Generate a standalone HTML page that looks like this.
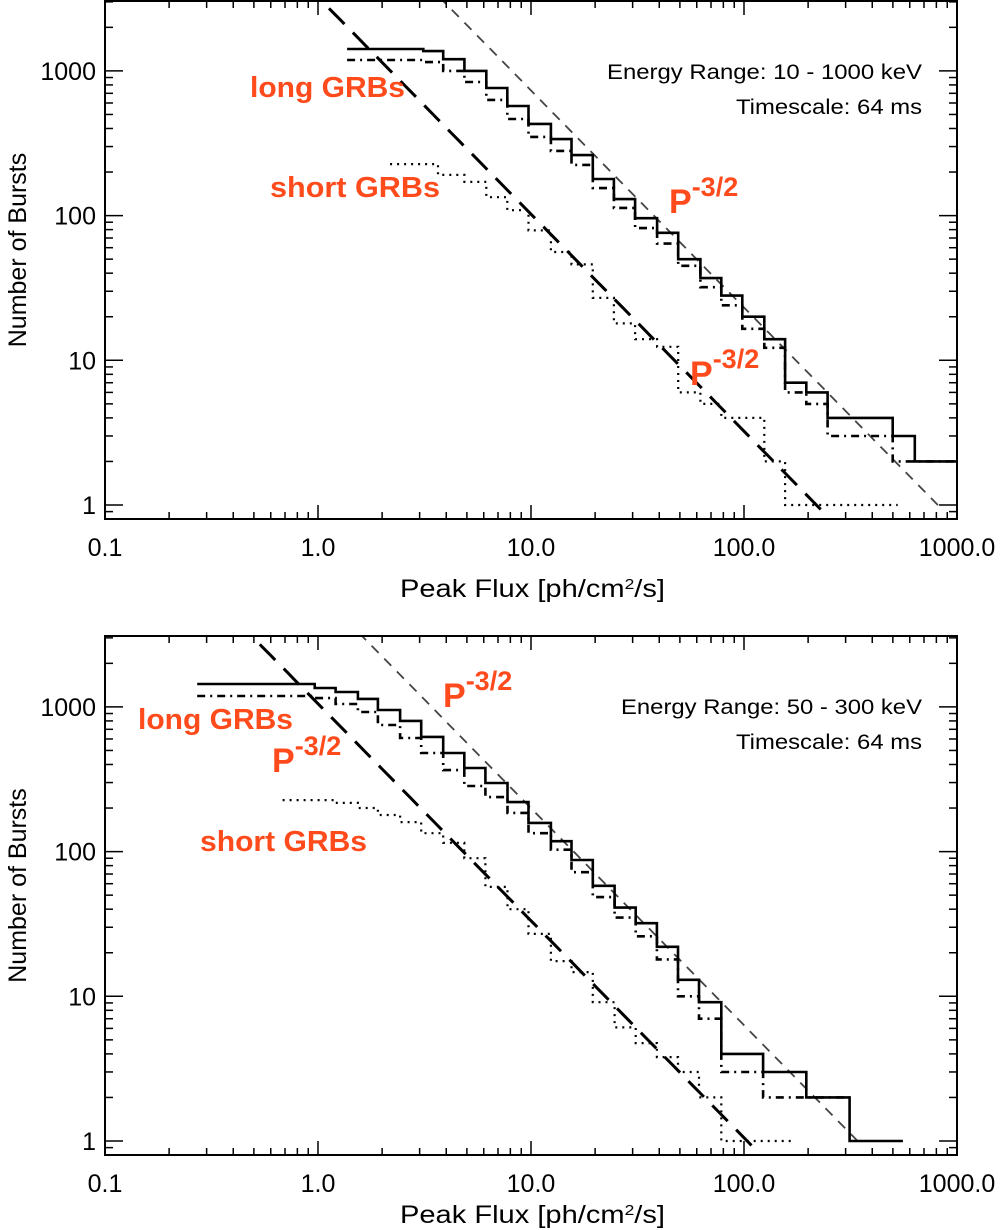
<!DOCTYPE html>
<html><head><meta charset="utf-8"><style>
html,body{margin:0;padding:0;background:#fff;}
svg{display:block;font-family:"Liberation Sans",Helvetica,Arial,sans-serif;}
</style></head><body>
<svg id="chart" width="1000" height="1230" viewBox="0 0 1000 1230" xmlns="http://www.w3.org/2000/svg"></svg>
<script>
// ---- Top panel data (10-1000 keV) ----
const topLongEdges = [1.37,3.12,3.87,4.87,6.17,7.74,9.73,12.4,15.5,19.5,24.5,30.8,39.1,49.1,62.4,78.2,98.2,124.5,156,196,247,499,634,1000];
const topLongCounts = [1417,1370,1205,1000,762,572,430,338,262,179,130,96,76,50,37,28,20,14,7,6,4,3,2];
const topLongDDCounts = [1190,1150,1000,838,630,465,350,280,224,155,113,82,64,45,32,24,16.5,12.2,6,5,3,2,2];
const topShortEdges = [2.18,3.66,4.87,6.17,7.74,9.73,12.4,15.5,19.5,24.5,30.8,39.1,49.1,62.4,78.2,124.5,156,527];
const topShortCounts = [227,191,171,134,109,79,56,46,27,18,14,12.4,6,5,4,2,1];
const topPowAmpShort = 3236;
const topPowAmpLong = 23170;
// ---- Bottom panel data (50-300 keV) ----
const botLongEdges = [0.271,0.965,1.21,1.54,1.91,2.43,3.05,3.87,4.86,6.11,7.76,9.73,12.4,15.5,19.5,24.7,31.0,39.0,49.0,61.5,78.2,123,196,313,557];
const botLongCounts = [1440,1350,1268,1135,952,800,620,480,378,298,220,158,118,87.5,58,41,32,22,13,9.1,4,3,2,1];
const botLongDDEdges = [0.271,0.965,1.21,1.54,1.91,2.43,3.05,3.87,4.86,6.11,7.76,9.73,12.4,15.5,19.5,24.7,31.0,39.0,49.0,61.5,78.2,123,196,313];
const botLongDDCounts = [1190,1150,1047,922,750,610,480,366,284,238,185,134,103,72,48.5,35,26,18,10,7,3,2,2];
const botShortEdges = [0.682,1.21,1.54,1.91,2.43,3.05,3.87,4.86,6.11,7.76,9.73,12.4,15.5,19.5,24.7,31.0,39.0,49.0,61.5,78.2,167];
const botShortCounts = [227,217,200,179,160,134,115,90,57,40,27,17.5,14.7,9.1,6.1,4.75,3.8,3,2,1];
const botPowAmpShort = 1053;
const botPowAmpLong = 6310;
const xTickLabels = ["0.1","1.0","10.0","100.0","1000.0"];
const yTickLabels = ["1","10","100","1000"];

const NS="http://www.w3.org/2000/svg";
const svg=document.getElementById('chart');
function mk(tag,attrs,parent){const e=document.createElementNS(NS,tag);for(const k in attrs)e.setAttribute(k,attrs[k]);(parent||svg).appendChild(e);return e;}
const L=105,R=957,DX=(R-L)/4;
function xs(p){return L+(Math.log10(p)+1)*DX;}
function stepPath(P,edges,counts){
  let d='';
  for(let i=0;i<counts.length;i++){
    const x0=xs(edges[i]),x1=xs(edges[i+1]),y=P.ys(counts[i]);
    d+=(i===0?'M':'L')+x0.toFixed(1)+','+y.toFixed(1)+' L'+x1.toFixed(1)+','+y.toFixed(1)+' ';
  }
  return d;
}
function drawPanel(y1,top,bot,name,data){
  const DY=144.7;
  const P={ys:v=>y1-Math.log10(v)*DY};
  const g=mk('g',{});
  
  
  const clipId='clip-'+name;
  const cp=mk('clipPath',{id:clipId},g);
  mk('rect',{x:L,y:top,width:R-L,height:bot-top},cp);
  const series=mk('g',{'clip-path':'url(#'+clipId+')'},g);
  function pow(A,stroke,sw,dash,nm){
    let d='';const n=60;const pStart=Math.pow(A/Math.pow(10,3.6),2/3);
    const pE=Math.pow(A/0.93,2/3);
    for(let i=0;i<=n;i++){const lp=Math.log10(pStart)+(Math.log10(pE)-Math.log10(pStart))*i/n;const p=Math.pow(10,lp);d+=(i?'L':'M')+xs(p).toFixed(1)+','+P.ys(A*Math.pow(p,-1.5)).toFixed(1);}
    const e=mk('path',{d,fill:'none',stroke,'stroke-width':sw,'stroke-dasharray':dash},series);
    
    
  }
  pow(data.ampLong,'#444',1.8,'10,8',name+'-powerlaw-long');
  pow(data.ampShort,'#000',3,'22,12',name+'-powerlaw-short');
  const s1=mk('path',{d:stepPath(P,data.longEdges,data.longCounts),fill:'none',stroke:'#000','stroke-width':2.6},series);
  
  
  const s2=mk('path',{d:stepPath(P,data.ddEdges,data.ddCounts),fill:'none',stroke:'#000','stroke-width':2.6,'stroke-dasharray':'8,5,2,5'},series);
  
  
  const s3=mk('path',{d:stepPath(P,data.shortEdges,data.shortCounts),fill:'none',stroke:'#000','stroke-width':2.2,'stroke-dasharray':'2,5'},series);
  
  
  const fr=mk('rect',{x:L,y:top,width:R-L,height:bot-top,fill:'none',stroke:'#000','stroke-width':2},g);
  
  
  for(let dec=-1;dec<3;dec++){
    for(let m=1;m<10;m++){
      const x=xs(m*Math.pow(10,dec));const len=m===1?14:7;
      mk('line',{x1:x,y1:bot,x2:x,y2:bot-len,stroke:'#000','stroke-width':1.5},g);
      mk('line',{x1:x,y1:top,x2:x,y2:top+len,stroke:'#000','stroke-width':1.5},g);
    }
  }
  xTickLabels.forEach((t,i)=>{
    const x=xs(Math.pow(10,i-1));
    const tx=mk('text',{x:x,y:bot+37,'font-size':25,'text-anchor':'middle',fill:'#000'},g);
    tx.textContent=t;
    
    
  });
  for(let dec=-1;dec<4;dec++){
    for(let m=1;m<10;m++){
      const v=m*Math.pow(10,dec);const y=P.ys(v);
      if(y<top||y>bot)continue;
      const len=m===1?18:8;
      mk('line',{x1:L,y1:y,x2:L+len,y2:y,stroke:'#000','stroke-width':1.5},g);
      mk('line',{x1:R,y1:y,x2:R-len,y2:y,stroke:'#000','stroke-width':1.5},g);
    }
  }
  yTickLabels.forEach((t,i)=>{
    const y=P.ys(Math.pow(10,i));
    const tx=mk('text',{x:96,y:y+9,'font-size':25,'text-anchor':'end',fill:'#000'},g);
    tx.textContent=t;
    
    
  });
  const xt=mk('text',{x:400,y:bot+data.titleOff,'font-size':25,fill:'#000',textLength:265,lengthAdjust:'spacingAndGlyphs'},g);
  xt.innerHTML='Peak Flux [ph/cm<tspan baseline-shift="super" font-size="15">2</tspan>/s]';
  
  
  const cy=(top+bot)/2-10;
  const yt=mk('text',{x:0,y:0,'font-size':25,'text-anchor':'middle',fill:'#000',transform:'translate(26,'+cy+') rotate(-90)'},g);
  yt.textContent='Number of Bursts';
  
  
  const e1=mk('text',{x:data.ex,y:top+78,'font-size':21,fill:'#000',textLength:922-data.ex,lengthAdjust:'spacingAndGlyphs'},g);
  e1.textContent=data.energy;
  
  
  const e2=mk('text',{x:736,y:top+113,'font-size':21,fill:'#000',textLength:186,lengthAdjust:'spacingAndGlyphs'},g);
  e2.textContent='Timescale: 64 ms';
  
  
  data.labels.forEach(l=>{
    let t;
    if(l.p){
      t=mk('text',{x:l.x,y:l.y,'font-size':34,'font-weight':'bold',fill:'#ff4a1c'},g);
      t.innerHTML='P<tspan dy="-17" font-size="27">-3/2</tspan>';
    } else {
      t=mk('text',{x:l.x,y:l.y,'font-size':29,'font-weight':'bold',fill:'#ff4a1c',textLength:l.w,lengthAdjust:'spacingAndGlyphs'},g);
      t.textContent=l.t;
    }
    
    
  });
}
drawPanel(505,1,519,'top-panel',{longEdges:topLongEdges,longCounts:topLongCounts,ddEdges:topLongEdges,ddCounts:topLongDDCounts,shortEdges:topShortEdges,shortCounts:topShortCounts,ampShort:topPowAmpShort,ampLong:topPowAmpLong,energy:'Energy Range: 10 - 1000 keV',ex:607,titleOff:78,
 labels:[{x:250,y:97,t:'long GRBs',w:155,n:'long-grbs-label'},{x:270,y:197,t:'short GRBs',w:170,n:'short-grbs-label'},{x:669,y:213,p:1,n:'powerlaw-label-long'},{x:690,y:385,p:1,n:'powerlaw-label-short'}]});
drawPanel(1141,636,1155,'bottom-panel',{longEdges:botLongEdges,longCounts:botLongCounts,ddEdges:botLongDDEdges,ddCounts:botLongDDCounts,shortEdges:botShortEdges,shortCounts:botShortCounts,ampShort:botPowAmpShort,ampLong:botPowAmpLong,energy:'Energy Range: 50 - 300 keV',ex:621,titleOff:68,
 labels:[{x:443,y:707,p:1,n:'powerlaw-label-long'},{x:138,y:729,t:'long GRBs',w:155,n:'long-grbs-label'},{x:272,y:772,p:1,n:'powerlaw-label-short'},{x:200,y:851,t:'short GRBs',w:167,n:'short-grbs-label'}]});
</script>
</body></html>
